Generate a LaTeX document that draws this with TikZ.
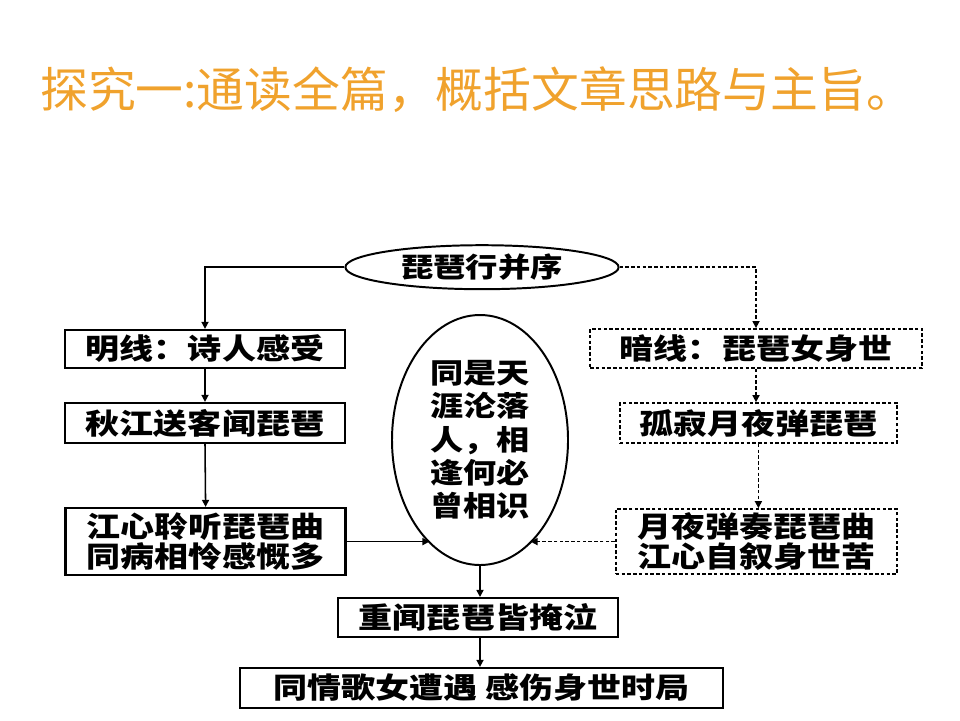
\documentclass[tikz,border=0pt]{standalone}
\usepackage{fontspec}
\usepackage{xcolor}
\usetikzlibrary{calc,arrows.meta,positioning,shapes.geometric}
\newfontfamily\cjk{Noto Sans CJK SC}
\newfontfamily\cjkbox[FakeStretch=1.18]{Noto Sans CJK SC}
\definecolor{titleorange}{RGB}{240,162,45}

\begin{document}
\begin{tikzpicture}[>={Triangle[length=5pt,width=5pt]},
    mingbox/.style={draw, line width=1.6pt, inner sep=0pt, align=center,
        font=\cjkbox\bfseries\fontsize{20.5}{19.5}\selectfont},
    anbox/.style={mingbox, line width=1.2pt, dash pattern=on 2.5pt off 1.6pt},
    mingline/.style={->, line width=1.1pt},
    anline/.style={->, line width=1.1pt, dash pattern=on 2.5pt off 1.6pt}]
    		% Page frame, 960 x 720 px at 40 px per cm
    		\useasboundingbox (0,0) rectangle (24,-18);
    		
    		% Title
    		\node[anchor=west, inner sep=0pt, text=titleorange, font=\cjk\fontsize{34}{38}\selectfont] (title) at (1.0,-2.25) {探究一:通读全篇，概括文章思路与主旨。};
    		
    		% Preface ellipse on top
    		\node[draw, ellipse, line width=1.4pt, inner sep=0pt, minimum width=6.83cm, minimum height=1.1cm,
    			font=\cjkbox\bfseries\fontsize{19.5}{19}\selectfont] (xu) at (12.05,-6.68) {琵琶行并序};
    		
    		% Central ellipse
    		\node[draw, ellipse, line width=1.4pt, inner sep=0pt, minimum width=4.4cm, minimum height=6.25cm, align=center,
    			font=\cjkbox\bfseries\fontsize{20}{23.7}\selectfont] (tong) at (12.0,-11.0)
    			{同是天\\涯沦落\\人，相\\逢何必\\曾相识};
    		
    		% Bright line (left column)
    		\node[mingbox, minimum width=7.0cm, minimum height=0.95cm] (ming1) at (5.125,-8.725) {明线：诗人感受};
    		\node[mingbox, minimum width=7.0cm, minimum height=1.0cm] (ming2) at (5.125,-10.575) {秋江送客闻琵琶};
    		\node[mingbox, minimum width=7.0cm, minimum height=1.68cm] (ming3) at (5.14,-13.54) {江心聆听琵琶曲\\同病相怜感慨多};
    		
    		% Hidden line (right column)
    		\node[anbox, minimum width=8.3cm, minimum height=0.975cm] (an1) at (18.9,-8.71) {暗线：琵琶女身世};
    		\node[anbox, minimum width=6.93cm, minimum height=1.0cm] (an2) at (18.96,-10.575) {孤寂月夜弹琵琶};
    		\node[anbox, minimum width=7.03cm, minimum height=1.63cm] (an3) at (18.91,-13.54) {月夜弹奏琵琶曲\\江心自叙身世苦};
    		
    		% Bottom boxes
    		\node[mingbox, minimum width=7.0cm, minimum height=0.975cm] (chong) at (11.95,-15.44) {重闻琵琶皆掩泣};
    		\node[mingbox, minimum width=12.08cm, minimum height=1.0cm] (jie) at (12.04,-17.2) {同情歌女遭遇\ 感伤身世时局};
    		
    		% Bright line arrows
    		\draw[mingline] (xu.west) -| (ming1.north);
    		\draw[mingline] (ming1.south) -- (ming2.north);
    		\draw[mingline] (ming2.south) -- (ming3.north);
    		\draw[mingline] (ming3.east) -- (ming3.east -| tong.244);
    		
    		% Hidden line arrows
    		\draw[anline] (xu.east) -| (an1.north);
    		\draw[anline] (an1.south) -- (an1.south |- an2.north);
    		\draw[anline] (an2.south) -- (an2.south |- an3.north);
    		\draw[anline] (an3.west) -- (an3.west -| tong.296);
    		
    		% Down to the close
    		\draw[mingline] (tong.south) -- (tong.south |- chong.north);
    		\draw[mingline] (tong.south |- chong.south) -- (tong.south |- jie.north);
    	\end{tikzpicture}
\end{document}
